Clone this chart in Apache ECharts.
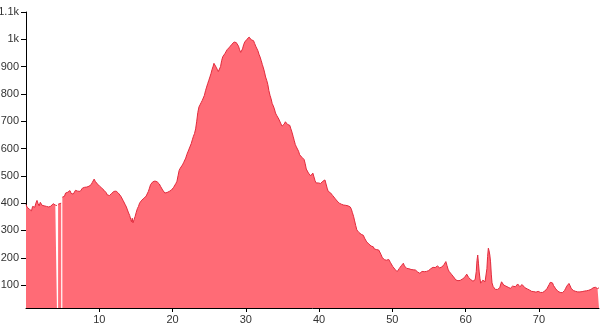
<!DOCTYPE html>
<html>
<head>
<meta charset="utf-8">
<script src="https://cdn.jsdelivr.net/npm/echarts@6/dist/echarts.min.js"></script>
<style>html,body{margin:0;padding:0;background:#fff;}#c{width:603px;height:327px;}</style>
</head>
<body>
<div id="c"></div>
<script>
// Tick labels
const xTicks = [10, 20, 30, 40, 50, 60, 70];
const yTicks = [100, 200, 300, 400, 500, 600, 700, 800, 900, 1000, 1100];
const xMax = 78.2;
const yMin = 16;
const yMax = 1100;

// Profile values [x, y]; null marks a break in the data
const profile = [
[0,395],[0.15,385],[0.3,392],[0.45,378],[0.6,383],[0.75,372],[0.9,388],[1.05,395],[1.2,385],[1.35,400],
[1.5,410],[1.65,398],[1.8,390],[1.95,403],[2.05,406],[2.2,392],[2.35,385],[2.5,390],[2.65,397],[2.8,388],
[2.95,382],[3.1,386],[3.25,392],[3.4,389],[3.55,394],[3.7,398],[3.85,402],[4.0,393],[4.1,389],[4.22,391],
[4.3,null],
[4.38,396],[4.55,401],[4.8,400],
[4.88,null],
[4.96,422],[5.1,429],[5.25,425],[5.4,437],[5.55,432],[5.7,440],[5.85,438],[6.0,446],[6.15,436],[6.3,441],
[6.45,433],[6.6,440],[6.75,447],[6.9,452],[7.05,444],[7.2,447],[7.4,443],[7.55,450],[7.7,455],[7.85,452],
[8.0,458],[8.15,462],[8.3,459],[8.45,466],[8.6,462],[8.75,458],[8.9,468],[9.05,476],[9.2,483],[9.3,488],
[9.45,480],[9.6,474],[9.75,470],[9.9,466],[10.05,462],[10.2,459],[10.35,455],[10.5,450],[10.65,447],[10.8,444],
[10.95,438],[11.1,430],[11.25,423],[11.4,428],[11.55,432],[11.7,436],[11.85,440],[12.0,443],[12.15,447],[12.3,444],
[12.45,440],[12.6,437],[12.8,434],[12.95,425],[13.1,418],[13.25,410],[13.4,403],[13.55,394],[13.7,386],[13.85,375],
[14.0,364],[14.15,355],[14.3,340],[14.4,332],[14.5,345],[14.6,328],[14.75,340],[14.9,352],[15.05,367],[15.2,380],
[15.35,388],[15.5,400],[15.65,395],[15.8,411],[15.95,405],[16.1,418],[16.25,414],[16.4,426],[16.55,432],[16.7,443],
[16.85,455],[17.0,468],[17.15,475],[17.3,478],[17.45,482],[17.6,481],[17.75,484],[17.9,478],[18.05,477],[18.2,470],
[18.35,462],[18.5,455],[18.65,448],[18.8,442],[18.95,437],[19.1,436],[19.25,439],[19.4,441],[19.55,443],[19.7,446],
[19.85,448],[20.0,452],[20.15,458],[20.3,465],[20.45,472],[20.6,480],[20.75,500],[20.9,520],[21.05,528],[21.2,535],
[21.35,540],[21.5,548],[21.65,552],[21.8,565],[21.95,578],[22.1,588],[22.25,598],[22.4,605],[22.55,618],[22.7,632],
[22.85,645],[23.0,655],[23.15,672],[23.3,700],[23.45,732],[23.6,752],[23.75,760],[23.9,768],[24.05,776],[24.2,783],
[24.35,795],[24.5,812],[24.65,825],[24.8,838],[24.95,850],[25.1,862],[25.25,875],[25.4,890],[25.55,902],[25.65,912],
[25.8,906],[25.95,898],[26.1,890],[26.25,882],[26.4,877],[26.55,900],[26.7,922],[26.85,936],[27.0,940],[27.15,948],
[27.3,955],[27.45,962],[27.6,966],[27.8,972],[27.95,976],[28.1,982],[28.25,986],[28.4,990],[28.55,991],[28.7,988],
[28.85,984],[29.0,975],[29.15,962],[29.3,952],[29.4,948],[29.55,965],[29.7,980],[29.85,990],[30.0,996],[30.15,1000],
[30.3,1004],[30.45,1008],[30.6,1004],[30.75,998],[30.9,1000],[31.05,995],[31.2,985],[31.35,975],[31.5,968],[31.65,958],
[31.8,945],[31.95,935],[32.1,922],[32.25,908],[32.4,895],[32.55,880],[32.7,862],[32.85,850],[33.0,835],[33.15,812],
[33.3,795],[33.45,782],[33.6,765],[33.75,756],[33.9,745],[34.05,730],[34.2,722],[34.35,715],[34.5,708],[34.65,702],
[34.8,690],[34.95,682],[35.1,678],[35.25,690],[35.4,698],[35.55,696],[35.7,688],[35.85,692],[36.0,685],[36.15,672],
[36.3,660],[36.45,645],[36.6,630],[36.75,615],[36.9,606],[37.05,598],[37.2,590],[37.35,577],[37.5,572],[37.65,568],
[37.8,562],[37.95,560],[38.1,545],[38.25,525],[38.4,518],[38.55,510],[38.7,503],[38.85,500],[39.0,505],[39.15,510],
[39.3,496],[39.45,482],[39.6,474],[39.75,470],[39.9,474],[40.05,468],[40.2,472],[40.35,476],[40.5,480],[40.65,478],
[40.8,485],[40.95,470],[41.1,455],[41.25,443],[41.4,440],[41.55,438],[41.7,435],[41.85,428],[42.0,422],[42.15,418],
[42.3,412],[42.45,408],[42.6,404],[42.75,400],[42.9,398],[43.05,396],[43.2,394],[43.35,393],[43.5,395],[43.65,392],
[43.8,393],[43.95,390],[44.1,388],[44.25,386],[44.4,378],[44.55,365],[44.7,352],[44.85,335],[45.0,318],[45.15,302],
[45.3,298],[45.45,292],[45.6,289],[45.75,286],[45.9,284],[46.05,282],[46.2,272],[46.35,265],[46.5,258],[46.65,252],
[46.8,250],[46.95,246],[47.1,243],[47.25,242],[47.4,240],[47.55,232],[47.7,236],[47.85,230],[48.0,234],[48.15,228],
[48.3,222],[48.45,212],[48.6,202],[48.75,197],[48.9,193],[49.05,198],[49.2,191],[49.35,186],[49.5,194],[49.6,198],
[49.75,182],[49.9,175],[50.05,168],[50.2,162],[50.35,158],[50.5,152],[50.65,149],[50.8,155],[50.95,161],[51.1,168],
[51.25,172],[51.4,178],[51.5,180],[51.65,170],[51.8,163],[51.95,161],[52.1,164],[52.25,160],[52.4,158],[52.55,157],
[52.7,160],[52.85,156],[53.0,154],[53.15,155],[53.3,152],[53.45,148],[53.6,144],[53.75,143],[53.9,146],[54.05,150],
[54.2,146],[54.35,149],[54.5,152],[54.65,150],[54.8,147],[54.95,153],[55.1,155],[55.25,160],[55.4,163],[55.55,165],
[55.7,167],[55.85,164],[56.0,168],[56.15,170],[56.3,165],[56.45,163],[56.6,161],[56.75,166],[56.9,170],[57.05,175],
[57.2,180],[57.3,186],[57.45,172],[57.6,158],[57.75,150],[57.9,146],[58.05,140],[58.2,136],[58.35,130],[58.5,124],
[58.65,119],[58.8,117],[58.95,116],[59.1,118],[59.25,117],[59.4,119],[59.55,122],[59.7,124],[59.85,128],[60.0,131],
[60.15,140],[60.25,143],[60.4,128],[60.55,122],[60.7,120],[60.85,118],[61.0,114],[61.15,112],[61.3,120],[61.45,150],
[61.55,190],[61.65,210],[61.75,180],[61.85,148],[61.95,125],[62.05,107],[62.2,114],[62.35,118],[62.5,115],[62.65,112],
[62.8,118],[62.9,160],[63.0,205],[63.1,235],[63.2,225],[63.3,210],[63.4,185],[63.5,140],[63.6,108],[63.75,95],
[63.9,88],[64.05,84],[64.2,82],[64.35,84],[64.5,87],[64.65,90],[64.8,104],[64.9,112],[65.05,106],[65.2,100],
[65.35,102],[65.5,96],[65.65,94],[65.8,92],[65.95,90],[66.1,88],[66.25,92],[66.4,96],[66.5,100],[66.65,95],
[66.8,94],[66.95,98],[67.1,104],[67.25,97],[67.4,94],[67.55,99],[67.7,102],[67.8,106],[67.95,96],[68.1,90],
[68.25,88],[68.4,86],[68.55,84],[68.7,82],[68.85,80],[69.0,77],[69.15,75],[69.3,76],[69.45,75],[69.6,74],
[69.75,75],[69.9,77],[70.05,74],[70.2,73],[70.35,72],[70.5,73],[70.65,75],[70.8,78],[70.95,82],[71.1,87],
[71.25,94],[71.4,102],[71.55,110],[71.7,116],[71.85,108],[72.0,98],[72.15,92],[72.3,86],[72.45,80],[72.6,77],
[72.75,75],[72.9,73],[73.05,72],[73.2,72],[73.35,75],[73.5,80],[73.65,88],[73.8,96],[73.95,102],[74.1,106],
[74.25,98],[74.4,88],[74.55,83],[74.7,80],[74.85,82],[75.0,77],[75.15,75],[75.3,75],[75.45,74],[75.6,75],
[75.75,75],[75.9,76],[76.05,77],[76.2,78],[76.35,79],[76.5,79],[76.65,80],[76.8,81],[76.95,82],[77.1,84],
[77.25,86],[77.4,90],[77.55,96],[77.7,92],[77.85,88],[78.0,87],[78.2,90]
];

const chart = echarts.init(document.getElementById('c'), null, {renderer: 'canvas'});
const labelFont = {color: '#333', fontSize: 11, fontFamily: 'Liberation Sans, Arial, sans-serif'};
chart.setOption({
  animation: false,
  grid: {left: 26, right: 4, top: 12, bottom: 19, containLabel: false, outerBoundsMode: 'none'},
  xAxis: {
    type: 'value', min: 0, max: xMax,
    axisLine: {show: true, onZero: false, lineStyle: {color: '#000', width: 1}},
    axisTick: {show: true, length: 4, lineStyle: {color: '#000'}, customValues: xTicks},
    axisLabel: Object.assign({margin: 6, customValues: xTicks}, labelFont),
    splitLine: {show: false}
  },
  yAxis: {
    type: 'value', min: yMin, max: yMax,
    axisLine: {show: true, lineStyle: {color: '#000', width: 1}},
    axisTick: {show: true, length: 5, lineStyle: {color: '#000'}, customValues: yTicks},
    axisLabel: Object.assign({margin: 7, customValues: yTicks,
      formatter: v => v >= 1000 ? (v / 1000) + 'k' : String(v)}, labelFont),
    splitLine: {show: false}
  },
  series: [{
    type: 'line',
    data: profile,
    showSymbol: false,
    symbol: 'none',
    connectNulls: false,
    sampling: 'none',
    lineStyle: {color: '#e12a3c', width: 1},
    areaStyle: {color: '#ff6b76', opacity: 1},
    clip: true
  }]
});
</script>
</body>
</html>
